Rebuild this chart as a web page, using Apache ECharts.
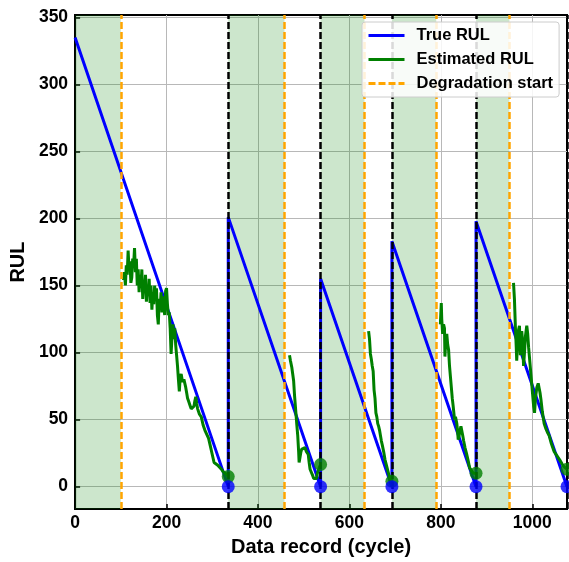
<!DOCTYPE html>
<html>
<head>
<meta charset="utf-8">
<script src="https://cdn.jsdelivr.net/npm/echarts@6/dist/echarts.min.js"></script>
<style>
  html, body { margin: 0; padding: 0; background: #fff; }
  #main { width: 569px; height: 562px; }
</style>
</head>
<body>
<div id="main"></div>
<script>
// units: start cycle, failure cycle, true RUL at start
const unitStart = [0, 335, 537, 693, 877];
const unitEnd = [335, 537, 693, 877, 1076];
const trueRulAtStart = [335, 201, 155, 183, 198];
const degradationStart = [100, 458, 633, 790, 950];
const estimatedAtEnd = [7.5, 16.5, 4, 10, 13];
const xTicks = [0, 200, 400, 600, 800, 1000];
const yTicks = [0, 50, 100, 150, 200, 250, 300, 350];

// estimated RUL, one list per unit: [cycle, RUL]
const estUnit1 = [[106,154],[108,160],[110,150],[112,165],[114,158],[116,176],[118,162],[120,168],[122,152],[124,156],[126,170],[128,165],[130,178],[132,160],[134,170],[136,150],[138,162],[140,145],[142,158],[144,148],[146,162],[148,140],[150,152],[152,147],[154,158],[156,138],[158,150],[160,142],[162,155],[164,137],[166,150],[168,132],[170,145],[172,136],[174,150],[176,140],[178,148],[180,128],[182,121],[184,140],[186,132],[188,145],[190,130],[192,142],[194,135],[196,128],[198,146],[200,148],[202,136],[204,128],[206,130],[208,118],[210,99],[212,112],[214,121],[216,110],[218,118],[220,106],[222,98],[224,90],[226,80],[228,71],[230,82],[232,84],[234,80],[236,78],[238,80],[240,79],[242,74],[244,70],[246,66],[248,64],[250,62],[252,60],[254,58],[256,57],[258,57],[260,60],[262,64],[264,67],[266,62],[268,58],[270,56],[272,54],[276,52],[280,46],[284,42],[288,39],[292,36],[296,30],[300,24],[304,18],[308,17],[312,16],[316,15],[320,13],[324,11],[328,10],[332,9],[335,7.5]];
const estUnit2 = [[469,98],[471,94],[474,89],[476,84],[478,79],[480,68],[483,55],[485,46],[487,38],[489,26],[490,18],[492,22],[494,26],[496,28],[498,27],[500,29],[503,29],[506,26],[508,27],[510,24],[512,18],[514,13],[517,12],[520,8],[522,6],[525,5],[528,6],[530,10],[533,13],[535,15],[537,16.5]];
const estUnit3 = [[642,116],[644,110],[646,99],[648,95],[650,90],[652,86],[654,72],[656,66],[658,55],[660,52],[662,47],[664,45],[666,42],[668,38],[670,34],[672,31],[675,26],[678,20],[681,16],[684,12],[687,8],[690,5],[693,4]];
const estUnit4 = [[799,121],[801,137],[802,125],[804,114],[806,121],[808,118],[809,97],[811,110],[813,114],[815,106],[817,102],[819,90],[821,82],[823,74],[825,66],[827,60],[830,50],[832,52],[835,47],[837,40],[838,35],[840,38],[842,42],[844,45],[846,44],[848,38],[850,34],[853,29],[856,25],[860,19],[863,14],[867,12],[871,10],[874,10],[877,10]];
const estUnit5 = [[959,152],[961,140],[963,120],[965,104],[966,94],[968,108],[970,117],[972,120],[974,98],[975,104],[977,116],[979,108],[981,90],[983,100],[985,112],[988,120],[990,114],[992,104],[994,96],[996,88],[998,80],[1000,72],[1003,60],[1005,55],[1007,66],[1010,74],[1013,77],[1015,76],[1017,70],[1019,65],[1022,56],[1026,47],[1030,43],[1034,40],[1037,38],[1041,33],[1044,30],[1048,26],[1052,24],[1055,23],[1060,20],[1065,17],[1069,15],[1073,14],[1076,13]];
const estUnits = [estUnit1, estUnit2, estUnit3, estUnit4, estUnit5];

const FONT = "'Liberation Sans', Arial, sans-serif";

let trueRul = [];
unitStart.forEach((s, i) => {
    trueRul.push([s, trueRulAtStart[i]]);
    trueRul.push([unitEnd[i], 0]);
});

let myChart = echarts.init(document.getElementById('main'));

let series = [
    { // shaded healthy phase
        type: 'line', data: [], silent: true,
        markArea: {
            silent: true,
            itemStyle: { color: 'rgba(0,128,0,0.2)' },
            data: unitStart.map((s, i) => [{ xAxis: s }, { xAxis: degradationStart[i] }])
        }
    },
    {
        name: 'True RUL', type: 'line', data: trueRul, symbol: 'none', z: 3,
        lineStyle: { color: '#0000ff', width: 3 }, itemStyle: { color: '#0000ff' }
    }
];
estUnits.forEach(u => {
    series.push({
        name: 'Estimated RUL', type: 'line', data: u, symbol: 'none', z: 4,
        lineStyle: { color: '#008000', width: 3 }, itemStyle: { color: '#008000' }
    });
});
series.push({
    name: 'Degradation start', type: 'line', data: [], symbol: 'none', z: 6,
    lineStyle: { color: '#ffa500', width: 2.5, type: [7, 3] }, itemStyle: { color: '#ffa500' },
    markLine: {
        silent: true, symbol: ['none', 'none'], label: { show: false },
        lineStyle: { color: '#ffa500', width: 2.5, type: [7, 3] },
        data: degradationStart.map(d => ({ xAxis: d }))
    }
});
series.push({
    type: 'scatter', data: unitEnd.map((e, i) => [e, estimatedAtEnd[i]]),
    symbolSize: 13, z: 7, itemStyle: { color: '#008000' }
});
series.push({
    type: 'scatter', data: unitEnd.map(e => [e, 0]),
    symbolSize: 13, z: 8, itemStyle: { color: '#0000ff' }
});
series.push({ // failure / end of unit
    type: 'line', data: [], symbol: 'none', z: 10,
    markLine: {
        silent: true, symbol: ['none', 'none'], label: { show: false },
        lineStyle: { color: '#000', width: 2.5, type: [7, 3] },
        data: unitEnd.map(e => ({ xAxis: e }))
    }
});

myChart.setOption({
    animation: false,
    grid: {
        left: 69, right: 2, top: 15, bottom: 46,
        show: true, borderColor: '#000', borderWidth: 2
    },
    legend: {
        orient: 'vertical', left: 362, top: 22, z: 20,
        data: ['True RUL', 'Estimated RUL', 'Degradation start'],
        itemWidth: 36, itemHeight: 14, itemGap: 7,
        itemStyle: { opacity: 0 },
        lineStyle: { width: 3 },
        padding: [5, 6, 5, 5],
        backgroundColor: 'rgba(255,255,255,0.85)',
        borderColor: '#cccccc', borderWidth: 1, borderRadius: 3,
        textStyle: { fontFamily: FONT, fontWeight: 'bold', fontSize: 16.5, color: '#000', padding: [0, 0, 0, 7] }
    },
    xAxis: {
        type: 'value', min: 0, max: 1076, interval: 200,
        name: 'Data record (cycle)', nameLocation: 'middle', nameGap: 26,
        nameTextStyle: { fontFamily: FONT, fontWeight: 'bold', fontSize: 20, color: '#000' },
        axisLine: { show: true, onZero: false, lineStyle: { color: '#000', width: 2 } },
        axisTick: { show: true, inside: true, length: 5, customValues: xTicks, lineStyle: { color: '#000', width: 1.5 } },
        axisLabel: {
            customValues: xTicks, fontFamily: FONT, fontWeight: 'bold', fontSize: 17.5, color: '#000', margin: 5,
            formatter: v => String(v)
        },
        splitLine: { show: true, lineStyle: { color: '#b8b8b8', width: 1 } }
    },
    yAxis: {
        type: 'value', min: -16.75, max: 351.75,
        name: 'RUL', nameLocation: 'middle', nameGap: 33, nameRotate: 90,
        nameTextStyle: { fontFamily: FONT, fontWeight: 'bold', fontSize: 20, color: '#000' },
        axisLine: { show: true, onZero: false, lineStyle: { color: '#000', width: 2 } },
        axisTick: { show: true, inside: true, length: 5, customValues: yTicks, lineStyle: { color: '#000', width: 1.5 } },
        axisLabel: { customValues: yTicks, fontFamily: FONT, fontWeight: 'bold', fontSize: 17.5, color: '#000', margin: 7 },
        splitLine: { show: true, lineStyle: { color: '#b8b8b8', width: 1 } }
    },
    series: series
});
</script>
</body>
</html>
